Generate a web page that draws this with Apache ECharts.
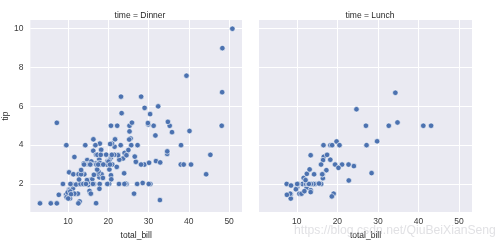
<!DOCTYPE html>
<html><head><meta charset="utf-8">
<script src="https://cdn.jsdelivr.net/npm/echarts@6/dist/echarts.min.js"></script>
<style>html,body{margin:0;padding:0;background:#fff}#c{width:500px;height:245px}</style>
</head><body><div id="c"></div>
<script>
const panelTitles = ["time = Dinner", "time = Lunch"];
const xTicks = [10, 20, 30, 40, 50];
const yTicks = [2, 4, 6, 8, 10];
const dinnerBill = [16.99,10.34,21.01,23.68,24.59,25.29,8.77,26.88,15.04,14.78,10.27,35.26,15.42,18.43,14.83,21.58,10.33,16.29,16.97,20.65,17.92,20.29,15.77,39.42,19.82,17.81,13.37,12.69,21.7,19.65,9.55,18.35,15.06,20.69,17.78,24.06,16.31,16.93,18.69,31.27,16.04,17.46,13.94,9.68,30.4,18.29,22.23,32.4,28.55,18.04,12.54,10.29,34.81,9.94,25.56,19.49,38.01,26.41,11.24,48.27,20.29,13.81,11.02,18.29,17.59,20.08,16.45,3.07,20.23,15.01,12.02,17.07,26.86,25.28,14.73,10.51,17.92,28.97,22.49,5.75,16.32,22.75,40.17,27.28,12.03,21.01,12.46,11.35,15.38,44.3,22.42,20.92,15.36,20.49,25.21,18.24,14.31,14.0,7.25,38.07,23.95,25.71,17.31,29.93,14.07,13.13,17.26,24.55,19.77,29.85,48.17,25.0,13.39,16.49,21.5,12.66,16.21,13.81,17.51,24.52,20.76,31.71,10.59,10.63,50.81,15.81,7.25,31.85,16.82,32.9,17.89,14.48,9.6,34.63,34.65,23.33,45.35,23.17,40.55,20.69,20.9,30.46,18.15,23.1,15.69,26.59,38.73,24.27,12.76,30.06,25.89,48.33,13.27,28.17,12.9,28.15,11.59,7.74,30.14,20.45,13.28,22.12,24.01,15.69,11.61,10.77,15.53,10.07,12.6,32.83,35.83,29.03,27.18,22.67,17.82,18.78];
const dinnerTip = [1.01,1.66,3.5,3.31,3.61,4.71,2.0,3.12,1.96,3.23,1.71,5.0,1.57,3.0,3.02,3.92,1.67,3.71,3.5,3.35,4.08,2.75,2.23,7.58,3.18,2.34,2.0,2.0,4.3,3.0,1.45,2.5,3.0,2.45,3.27,3.6,2.0,3.07,2.31,5.0,2.24,2.54,3.06,1.32,5.6,3.0,5.0,6.0,2.05,3.0,2.5,2.6,5.2,1.56,4.34,3.51,3.0,1.5,1.76,6.73,3.21,2.0,1.98,3.76,2.64,3.15,2.47,1.0,2.01,2.09,1.97,3.0,3.14,5.0,2.2,1.25,3.08,3.0,3.5,1.0,4.3,3.25,4.73,4.0,1.5,3.0,1.5,2.5,3.0,2.5,3.48,4.08,1.64,4.06,4.29,3.76,4.0,3.0,1.0,4.0,2.55,4.0,3.5,5.07,2.5,2.0,2.74,2.0,2.0,5.14,5.0,3.75,2.61,2.0,3.5,2.5,2.0,2.0,3.0,3.48,2.24,4.5,1.61,2.0,10.0,3.16,5.15,3.18,4.0,3.11,2.0,2.0,4.0,3.55,3.68,5.65,3.5,6.5,3.0,5.0,3.5,2.0,3.5,4.0,1.5,3.41,3.0,2.03,2.23,2.0,5.16,9.0,2.5,6.5,1.1,3.0,1.5,1.44,3.09,3.0,2.72,2.88,2.0,3.0,3.39,1.47,3.0,1.25,1.0,1.17,4.67,5.92,2.0,2.0,1.75,3.0];
const lunchBill = [27.2,22.76,17.29,19.44,16.66,10.07,32.68,15.98,34.83,13.03,18.28,24.71,21.16,10.65,12.43,24.08,11.69,13.42,14.26,15.95,12.48,29.8,8.52,14.52,11.38,22.82,19.08,20.27,11.17,12.26,18.26,8.51,10.33,14.15,16.0,13.16,17.47,34.3,41.19,27.05,16.43,8.35,18.64,11.87,9.78,7.51,19.81,28.44,15.48,16.58,7.56,10.34,43.11,13.0,13.51,18.71,12.74,13.0,16.4,20.53,16.47,12.16,13.42,8.58,15.98,13.42,16.27,10.09];
const lunchTip = [4.0,3.0,2.71,3.0,3.4,1.83,5.0,2.03,5.17,2.0,4.0,5.85,3.0,1.5,1.8,2.92,2.31,1.68,2.5,2.0,2.52,4.2,1.48,2.0,2.0,2.18,1.5,2.83,1.5,2.0,3.25,1.25,2.0,2.0,2.0,2.75,3.5,6.7,5.0,5.0,2.3,1.5,1.36,1.63,1.73,2.0,4.19,2.56,2.02,4.0,1.44,2.0,5.0,2.0,2.0,4.0,2.01,2.0,2.5,4.0,3.23,2.2,3.48,1.92,3.0,1.58,2.5,2.0];

const zip = (a, b) => a.map((v, i) => [v, b[i]]);
const chart = echarts.init(document.getElementById('c'), null, {renderer: 'canvas'});
const FONT = 'Liberation Sans, Arial, sans-serif';
const gridBase = {top: 20, height: 195, width: 213, show: true, backgroundColor: '#EAEAF2', borderWidth: 0};
function xAxis(i) {
  return {
    type: 'value', gridIndex: i, min: 0.68, max: 53.2,
    name: 'total_bill', nameLocation: 'middle', nameGap: 17,
    nameTextStyle: {fontSize: 8.5, color: '#262626', fontFamily: FONT},
    axisLine: {show: false},
    axisTick: {show: false, customValues: xTicks},
    axisLabel: {customValues: xTicks, fontSize: 8.5, color: '#3a3a3a', margin: 5, fontFamily: FONT},
    splitLine: {show: true, lineStyle: {color: '#ffffff', width: 1}}
  };
}
function yAxis(i) {
  return {
    type: 'value', gridIndex: i, min: 0.55, max: 10.45,
    name: i === 0 ? 'tip' : '', nameLocation: 'middle', nameGap: 19, nameRotate: 90,
    nameTextStyle: {fontSize: 8.5, color: '#262626', fontFamily: FONT},
    axisLine: {show: false},
    axisTick: {show: false, customValues: yTicks},
    axisLabel: {show: i === 0, customValues: yTicks, fontSize: 8.5, color: '#3a3a3a', margin: 7, fontFamily: FONT},
    splitLine: {show: true, lineStyle: {color: '#ffffff', width: 1}}
  };
}
const seriesStyle = {color: '#4C72B0', borderColor: '#ffffff', borderWidth: 0.6, opacity: 1};
chart.setOption({
  animation: false,
  backgroundColor: '#ffffff',
  title: [
    {text: panelTitles[0], left: 135, top: 6, textAlign: 'center', textStyle: {fontSize: 8.5, fontWeight: 'normal', color: '#262626', fontFamily: FONT}},
    {text: panelTitles[1], left: 365, top: 6, textAlign: 'center', textStyle: {fontSize: 8.5, fontWeight: 'normal', color: '#262626', fontFamily: FONT}}
  ],
  grid: [Object.assign({left: 29}, gridBase), Object.assign({left: 259}, gridBase)],
  xAxis: [xAxis(0), xAxis(1)],
  yAxis: [yAxis(0), yAxis(1)],
  series: [
    {type: 'scatter', xAxisIndex: 0, yAxisIndex: 0, symbolSize: 5.5, itemStyle: seriesStyle, data: zip(dinnerBill, dinnerTip)},
    {type: 'scatter', xAxisIndex: 1, yAxisIndex: 1, symbolSize: 5.5, itemStyle: seriesStyle, data: zip(lunchBill, lunchTip)}
  ],
  graphic: [
    {type: 'text', left: 294, top: 225, silent: true, z: 100,
     style: {text: 'https://blog.csdn.net/QiuBeiXianSeng', fontSize: 12.2, fontFamily: FONT, fill: 'rgba(200,200,206,0.55)'}}
  ]
});
</script></body></html>
